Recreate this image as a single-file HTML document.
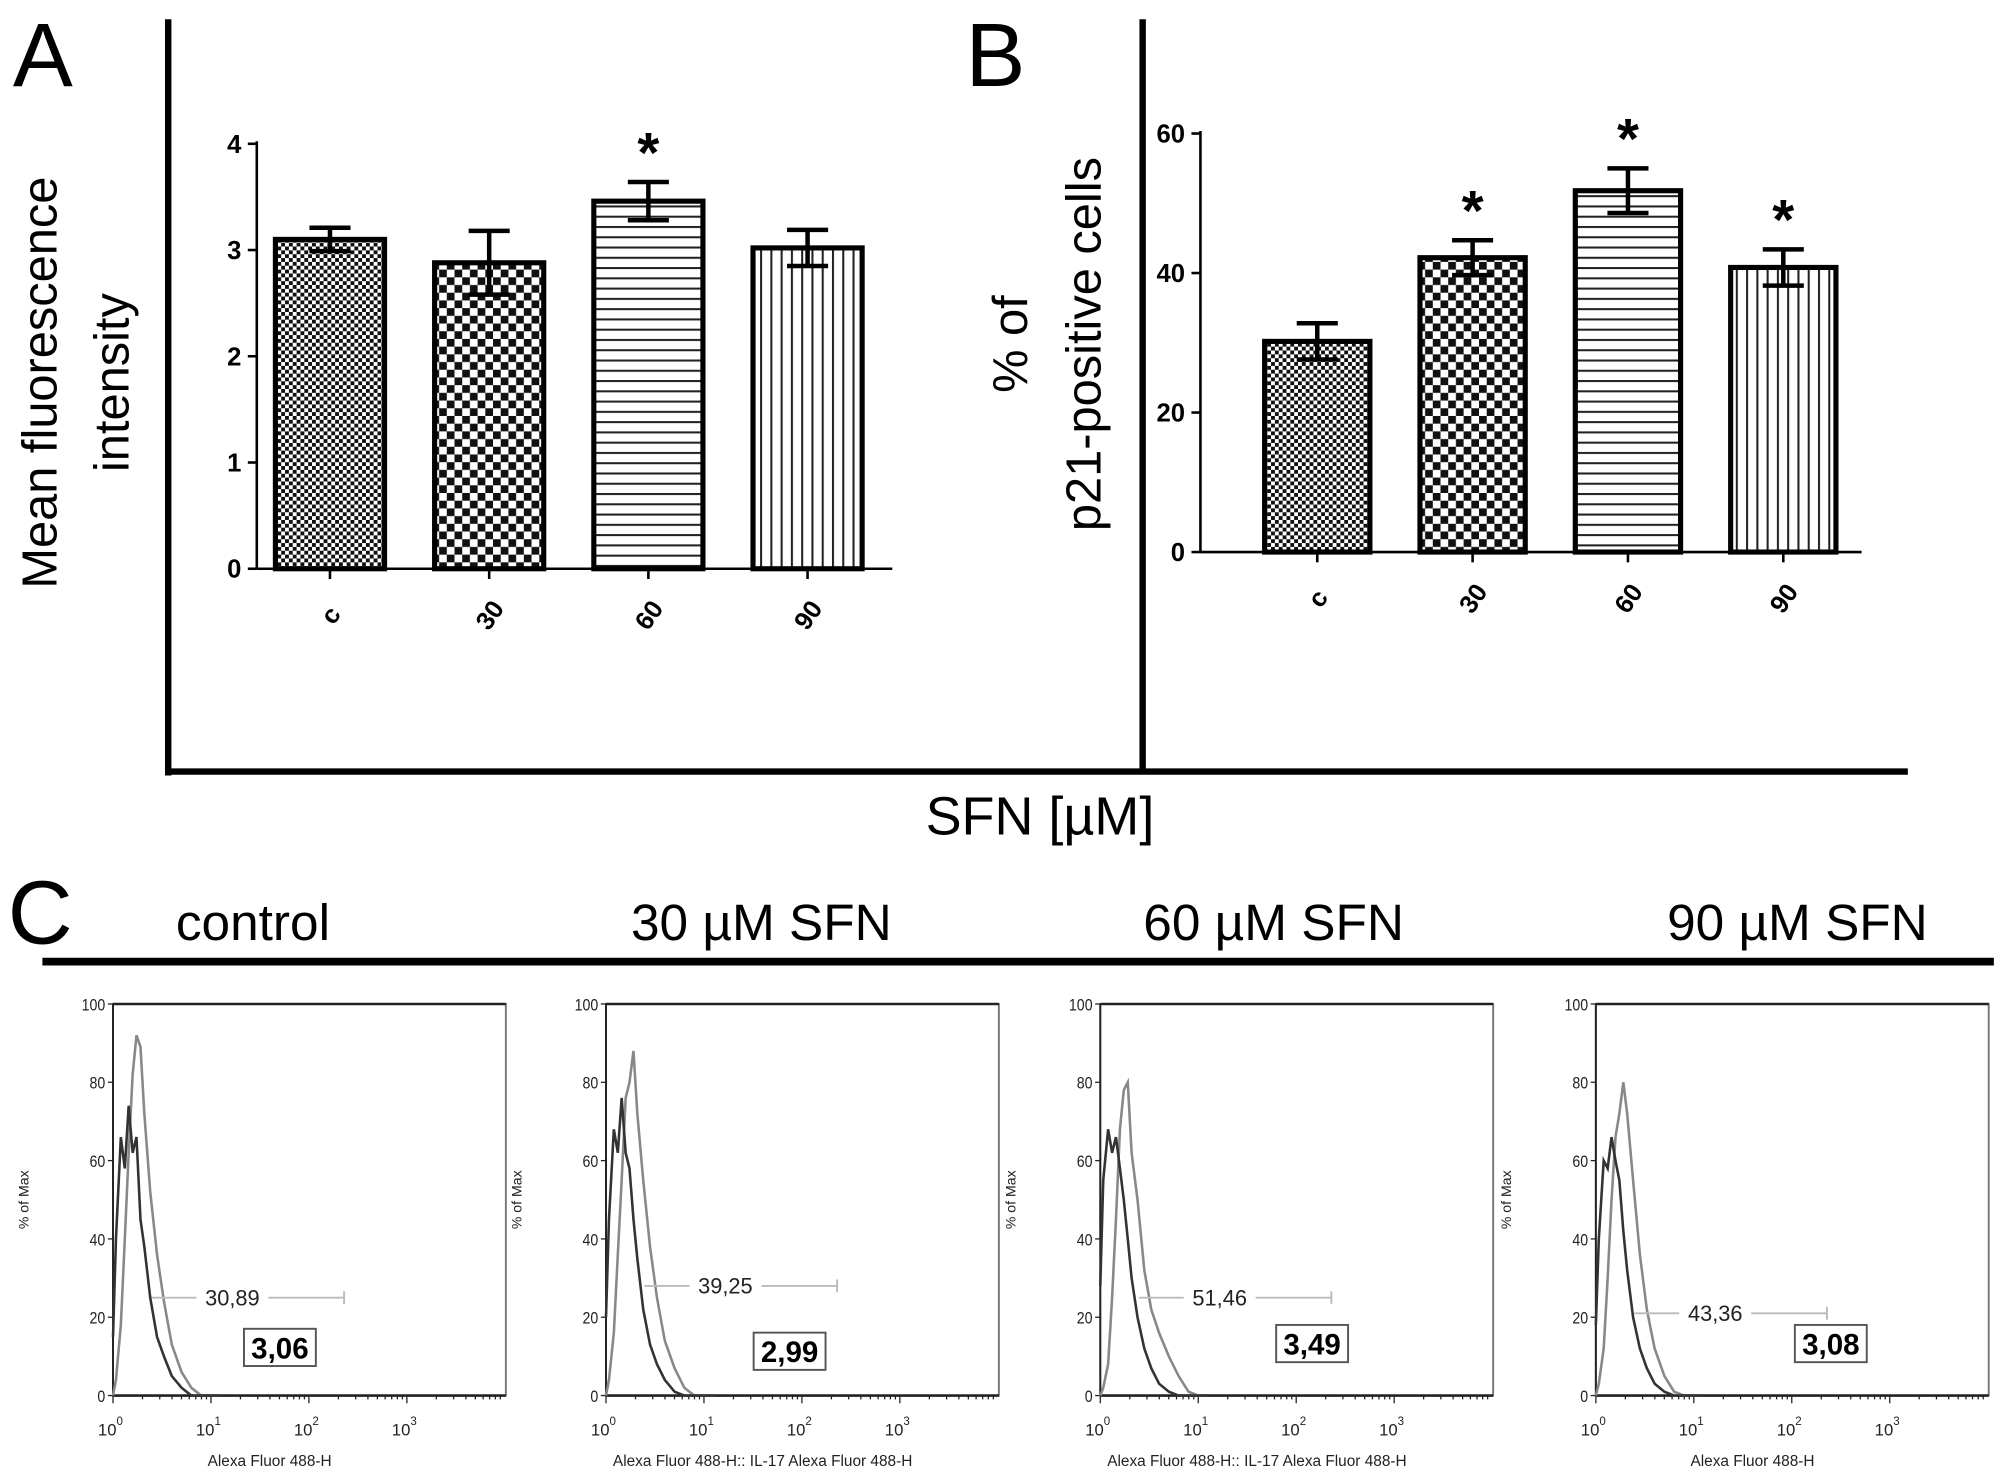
<!DOCTYPE html>
<html><head><meta charset="utf-8"><style>
html,body{margin:0;padding:0;background:#fff;}
svg{display:block;}
text{font-family:"Liberation Sans",sans-serif;}
</style></head><body>
<svg id="fig" width="2008" height="1479" viewBox="0 0 1564 1152" xmlns="http://www.w3.org/2000/svg">
<defs>
<pattern id="pFine" width="6" height="6" patternUnits="userSpaceOnUse"><rect width="6" height="6" fill="#fff"/><rect width="3" height="3" fill="#111"/><rect x="3" y="3" width="3" height="3" fill="#111"/></pattern>
<pattern id="pCoarse" width="12" height="12" patternUnits="userSpaceOnUse"><rect width="12" height="12" fill="#fff"/><rect width="6" height="6" fill="#111"/><rect x="6" y="6" width="6" height="6" fill="#111"/></pattern>
<pattern id="pHoriz" width="10" height="8" patternUnits="userSpaceOnUse"><rect width="10" height="8" fill="#fff"/><rect y="0" width="10" height="1.6" fill="#222"/></pattern>
<pattern id="pVert" width="8" height="10" patternUnits="userSpaceOnUse"><rect width="8" height="10" fill="#fff"/><rect x="0" width="1.6" height="10" fill="#222"/></pattern>
</defs>
<g>
<line x1="131" y1="15" x2="131" y2="604" stroke="#000" stroke-width="5"/>
<line x1="890" y1="15" x2="890" y2="602" stroke="#000" stroke-width="5"/>
<line x1="129" y1="601" x2="1486" y2="601" stroke="#000" stroke-width="5"/>
</g>
<text x="10" y="67" font-size="70">A</text>
<text x="752" y="67" font-size="70">B</text>
<text x="6" y="735" font-size="70">C</text>
<text x="810" y="650" font-size="42" text-anchor="middle">SFN [µM]</text>
<text transform="translate(44,298) rotate(-90)" font-size="38" text-anchor="middle">Mean fluorescence</text>
<text transform="translate(100,298) rotate(-90)" font-size="38" text-anchor="middle">intensity</text>
<text transform="translate(800,268) rotate(-90)" font-size="38" text-anchor="middle">% of</text>
<text transform="translate(857,268) rotate(-90)" font-size="38" text-anchor="middle">p21-positive cells</text>
<g id="chartA"></g>
<g id="chartB"></g>
<line x1="33" y1="749" x2="1553" y2="749" stroke="#000" stroke-width="6"/>
<g id="chartC"></g>
</svg>
<script>
const NS="http://www.w3.org/2000/svg";
function mk(parent,tag,attrs,text){const e=document.createElementNS(NS,tag);for(const k in attrs)e.setAttribute(k,attrs[k]);if(text!==undefined)e.textContent=text;parent.appendChild(e);return e;}

// ---- Chart data ----
const categories=["c","30","60","90"];
const patterns=["pFine","pCoarse","pHoriz","pVert"];
const mfiValues=[3.1,2.88,3.46,3.02];
const mfiErrors=[0.11,0.3,0.18,0.17];
const mfiSignif=[false,false,true,false];
const mfiTicks=[0,1,2,3,4];
const p21Values=[30.2,42.2,51.8,40.8];
const p21Errors=[2.6,2.5,3.2,2.6];
const p21Signif=[false,true,true,true];
const p21Ticks=[0,20,40,60];

function barChart(g,o){
  const y=v=>o.y0-(v/o.ymax)*(o.y0-o.y1);
  const x=i=>o.x0+o.first+i*o.step;
  mk(g,"line",{x1:o.x0,y1:o.y1-2,x2:o.x0,y2:o.y0,stroke:"#000","stroke-width":2});
  mk(g,"line",{x1:o.x0,y1:o.y0,x2:o.xEnd,y2:o.y0,stroke:"#000","stroke-width":2});
  o.ticks.forEach(t=>{
    const l=mk(g,"line",{x1:o.x0-7,y1:y(t),x2:o.x0,y2:y(t),stroke:"#000","stroke-width":2});
    
    
    const tx=mk(g,"text",{x:o.x0-12,y:y(t)+7,"font-size":20,"font-weight":"bold","text-anchor":"end"},String(t));
    
    
  });
  o.values.forEach((v,i)=>{
    const cx=x(i),w=o.bw;
    const r=mk(g,"rect",{x:cx-w/2,y:y(v),width:w,height:o.y0-y(v),fill:"url(#"+patterns[i]+")",stroke:"#000","stroke-width":4});
    
    
    const e=o.errors[i];
    const eb=mk(g,"path",{d:`M${cx},${y(v+e)}V${y(v-e)}M${cx-16},${y(v+e)}H${cx+16}M${cx-16},${y(v-e)}H${cx+16}`,stroke:"#000","stroke-width":3.5,fill:"none"});
    
    
    if(o.signif[i]){
      const s=mk(g,"text",{x:cx,y:y(v+e)-8,"font-size":44,"font-weight":"bold","text-anchor":"middle"},"*");
      
      
    }
    const tk=mk(g,"line",{x1:cx,y1:o.y0,x2:cx,y2:o.y0+8,stroke:"#000","stroke-width":2});
    
    
    const lb=mk(g,"text",{transform:`translate(${cx+6},${o.y0+40}) rotate(-55)`,"font-size":20,"font-weight":"bold","text-anchor":"middle"},categories[i]);
    
    
  });
}
barChart(document.getElementById("chartA"),{x0:200,y0:443,y1:112,ymax:4,xEnd:695,first:57,step:124,bw:85,values:mfiValues,errors:mfiErrors,signif:mfiSignif,ticks:mfiTicks});
barChart(document.getElementById("chartB"),{x0:935,y0:430,y1:104,ymax:60,xEnd:1450,first:91,step:121,bw:82,values:p21Values,errors:p21Errors,signif:p21Signif,ticks:p21Ticks});

// ---- Histogram data (x in decades, y in % of max) ----
const histTitles=["control","30 µM SFN","60 µM SFN","90 µM SFN"];
const histDecades=[0,0.03,0.08,0.12,0.16,0.2,0.24,0.28,0.32,0.38,0.45,0.52,0.6,0.7,0.8,0.9,1.0,1.1];
const histDark1=[15,40,66,58,74,62,66,45,38,25,15,10,5,2,0,0,0,0];
const histGray1=[0,4,18,40,62,82,92,89,72,52,36,24,13,6,2,0,0,0];
const histDark2=[20,45,68,62,76,62,58,45,35,22,13,8,4,1,0,0,0,0];
const histGray2=[0,4,16,36,55,76,80,88,72,55,38,25,14,7,2,0,0,0];
const histDark3=[28,55,68,62,66,58,50,40,30,20,12,7,3,1,0,0,0,0];
const histGray3=[0,2,8,25,45,68,78,80,62,50,32,22,16,10,5,1,0,0];
const histDark4=[18,40,60,58,66,60,55,42,32,20,12,7,3,1,0,0,0,0];
const histGray4=[0,3,12,30,50,66,72,80,72,55,36,22,12,5,1,0,0,0];
const histDark=[histDark1,histDark2,histDark3,histDark4];
const histGray=[histGray1,histGray2,histGray3,histGray4];
const gatePct=["30,89","39,25","51,46","43,36"];
const gateY=[25,28,25,21];
const mfiBoxLabels=["3,06","2,99","3,49","3,08"];
const xLabelText=["Alexa Fluor 488-H","Alexa Fluor 488-H:: IL-17 Alexa Fluor 488-H","Alexa Fluor 488-H:: IL-17 Alexa Fluor 488-H","Alexa Fluor 488-H"];
const histTicks=[0,20,40,60,80,100];

const gC=document.getElementById("chartC");
const titleX=[197,593,992,1400];
const plotLeft=[88,472,857,1243];
histTitles.forEach((t,p)=>{
  const tt=mk(gC,"text",{x:titleX[p],y:732,"font-size":40,"text-anchor":"middle"},t);
  
  
  const g=mk(gC,"g",{});
  
  
  const L=plotLeft[p],R=L+306,T=782,B=1087,dec=76.3;
  const X=d=>L+d*dec, Y=v=>B-v/100*(B-T);
  mk(g,"rect",{x:L,y:T,width:306,height:B-T,fill:"none",stroke:"#777","stroke-width":1.5});
  mk(g,"line",{x1:L,y1:T,x2:R,y2:T,stroke:"#222","stroke-width":2});
  mk(g,"line",{x1:L,y1:T,x2:L,y2:B,stroke:"#222","stroke-width":1.5});
  mk(g,"line",{x1:L,y1:B,x2:R,y2:B,stroke:"#222","stroke-width":2});
  histTicks.forEach(t=>{
    mk(g,"line",{x1:L-4,y1:Y(t),x2:L,y2:Y(t),stroke:"#222","stroke-width":1});
    const tl=mk(g,"text",{x:L-6,y:Y(t)+5,"font-size":13,"text-anchor":"end",fill:"#222",transform:`translate(${(L-6)*0.15},0) scale(0.85,1)`},String(t));
    
    
  });
  for(let d=0;d<4;d++){
    const tl=mk(g,"text",{x:X(d)-2,y:B+31,"font-size":13,"text-anchor":"middle",fill:"#222"},"10");
    
    
    mk(tl,"tspan",{dy:-8,"font-size":9},String(d));
    for(let k=1;k<10;k++){const xx=X(d+Math.log10(k));mk(g,"line",{x1:xx,y1:B,x2:xx,y2:B+(k==1?6:3),stroke:"#222","stroke-width":1});}
  }
  const yl=mk(g,"text",{transform:`translate(${L-66},${(T+B)/2}) rotate(-90)`,"font-size":11,"text-anchor":"middle",fill:"#222"},"% of Max");
  
  
  const xl=mk(g,"text",{x:L+122,y:B+55,"font-size":12,"text-anchor":"middle",fill:"#222"},xLabelText[p]);
  
  
  const pathOf=arr=>histDecades.map((d,i)=>(i?"L":"M")+X(d).toFixed(1)+","+Y(arr[i]).toFixed(1)).join("");
  const gp=mk(g,"path",{d:pathOf(histGray[p]),fill:"none",stroke:"#888","stroke-width":2});
  
  
  const dp=mk(g,"path",{d:pathOf(histDark[p]),fill:"none",stroke:"#333","stroke-width":2});
  
  
  const gy=Y(gateY[p]);
  const gx1=L+30,gx2=L+180;
  mk(g,"line",{x1:gx1,y1:gy,x2:gx2,y2:gy,stroke:"#bbb","stroke-width":1.5});
  mk(g,"line",{x1:gx2,y1:gy-5,x2:gx2,y2:gy+5,stroke:"#bbb","stroke-width":1.5});
  mk(g,"rect",{x:L+65,y:gy-9,width:56,height:18,fill:"#fff"});
  const gt=mk(g,"text",{x:L+93,y:gy+6,"font-size":17,"text-anchor":"middle",fill:"#222"},gatePct[p]);
  
  
  const bx=L+100+(p==1?15:p==2?37:p==3?55:0)+ (p==0?2:0);
  const by=[1035,1038,1032,1032][p];
  mk(g,"rect",{x:bx,y:by,width:56,height:29,fill:"#fff",stroke:"#555","stroke-width":1.5});
  const bt=mk(g,"text",{x:bx+28,y:by+23,"font-size":23,"font-weight":"bold","text-anchor":"middle"},mfiBoxLabels[p]);
  
  
});
</script>
</body></html>
